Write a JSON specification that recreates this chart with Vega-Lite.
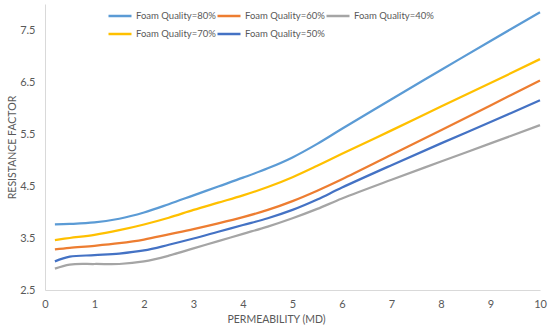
{
  "$schema": "https://vega.github.io/schema/vega-lite/v6.json",
  "width": 495,
  "height": 286,
  "autosize": {"type": "none"},
  "padding": {"left": 45, "top": 4, "right": 10, "bottom": 39},
  "background": "white",
  "config": {
    "view": {"stroke": null},
    "font": "Lato",
    "axis": {"labelFont": "Lato", "titleFont": "Lato", "labelColor": "#595959", "titleColor": "#595959", "labelFontSize": 11, "titleFontSize": 10.5, "titleFontWeight": "normal", "domainColor": "#D9D9D9", "ticks": false, "grid": false, "labelFlush": false}
  },
  "data": {"values": [
    {"q": "Foam Quality=80%", "k": 0.2, "rf": 3.76}, {"q": "Foam Quality=80%", "k": 0.5, "rf": 3.77}, {"q": "Foam Quality=80%", "k": 1, "rf": 3.8}, {"q": "Foam Quality=80%", "k": 1.5, "rf": 3.87}, {"q": "Foam Quality=80%", "k": 2, "rf": 3.99}, {"q": "Foam Quality=80%", "k": 2.5, "rf": 4.15}, {"q": "Foam Quality=80%", "k": 3, "rf": 4.32}, {"q": "Foam Quality=80%", "k": 3.5, "rf": 4.49}, {"q": "Foam Quality=80%", "k": 4, "rf": 4.66}, {"q": "Foam Quality=80%", "k": 4.5, "rf": 4.84}, {"q": "Foam Quality=80%", "k": 5, "rf": 5.05}, {"q": "Foam Quality=80%", "k": 5.5, "rf": 5.31}, {"q": "Foam Quality=80%", "k": 6, "rf": 5.6}, {"q": "Foam Quality=80%", "k": 7, "rf": 6.17}, {"q": "Foam Quality=80%", "k": 8, "rf": 6.73}, {"q": "Foam Quality=80%", "k": 9, "rf": 7.29}, {"q": "Foam Quality=80%", "k": 10, "rf": 7.84},
    {"q": "Foam Quality=70%", "k": 0.2, "rf": 3.46}, {"q": "Foam Quality=70%", "k": 0.5, "rf": 3.5}, {"q": "Foam Quality=70%", "k": 1, "rf": 3.56}, {"q": "Foam Quality=70%", "k": 1.5, "rf": 3.65}, {"q": "Foam Quality=70%", "k": 2, "rf": 3.76}, {"q": "Foam Quality=70%", "k": 2.5, "rf": 3.89}, {"q": "Foam Quality=70%", "k": 3, "rf": 4.04}, {"q": "Foam Quality=70%", "k": 3.5, "rf": 4.18}, {"q": "Foam Quality=70%", "k": 4, "rf": 4.32}, {"q": "Foam Quality=70%", "k": 4.5, "rf": 4.48}, {"q": "Foam Quality=70%", "k": 5, "rf": 4.67}, {"q": "Foam Quality=70%", "k": 5.5, "rf": 4.89}, {"q": "Foam Quality=70%", "k": 6, "rf": 5.12}, {"q": "Foam Quality=70%", "k": 7, "rf": 5.57}, {"q": "Foam Quality=70%", "k": 8, "rf": 6.03}, {"q": "Foam Quality=70%", "k": 9, "rf": 6.48}, {"q": "Foam Quality=70%", "k": 10, "rf": 6.94},
    {"q": "Foam Quality=60%", "k": 0.2, "rf": 3.28}, {"q": "Foam Quality=60%", "k": 0.5, "rf": 3.31}, {"q": "Foam Quality=60%", "k": 1, "rf": 3.35}, {"q": "Foam Quality=60%", "k": 1.5, "rf": 3.4}, {"q": "Foam Quality=60%", "k": 2, "rf": 3.47}, {"q": "Foam Quality=60%", "k": 2.5, "rf": 3.57}, {"q": "Foam Quality=60%", "k": 3, "rf": 3.67}, {"q": "Foam Quality=60%", "k": 3.5, "rf": 3.78}, {"q": "Foam Quality=60%", "k": 4, "rf": 3.9}, {"q": "Foam Quality=60%", "k": 4.5, "rf": 4.04}, {"q": "Foam Quality=60%", "k": 5, "rf": 4.21}, {"q": "Foam Quality=60%", "k": 5.5, "rf": 4.41}, {"q": "Foam Quality=60%", "k": 6, "rf": 4.63}, {"q": "Foam Quality=60%", "k": 7, "rf": 5.1}, {"q": "Foam Quality=60%", "k": 8, "rf": 5.57}, {"q": "Foam Quality=60%", "k": 9, "rf": 6.05}, {"q": "Foam Quality=60%", "k": 10, "rf": 6.53},
    {"q": "Foam Quality=50%", "k": 0.2, "rf": 3.05}, {"q": "Foam Quality=50%", "k": 0.5, "rf": 3.14}, {"q": "Foam Quality=50%", "k": 1, "rf": 3.17}, {"q": "Foam Quality=50%", "k": 1.5, "rf": 3.2}, {"q": "Foam Quality=50%", "k": 2, "rf": 3.26}, {"q": "Foam Quality=50%", "k": 2.5, "rf": 3.37}, {"q": "Foam Quality=50%", "k": 3, "rf": 3.49}, {"q": "Foam Quality=50%", "k": 3.5, "rf": 3.62}, {"q": "Foam Quality=50%", "k": 4, "rf": 3.75}, {"q": "Foam Quality=50%", "k": 4.5, "rf": 3.88}, {"q": "Foam Quality=50%", "k": 5, "rf": 4.04}, {"q": "Foam Quality=50%", "k": 5.5, "rf": 4.24}, {"q": "Foam Quality=50%", "k": 6, "rf": 4.47}, {"q": "Foam Quality=50%", "k": 7, "rf": 4.9}, {"q": "Foam Quality=50%", "k": 8, "rf": 5.32}, {"q": "Foam Quality=50%", "k": 9, "rf": 5.73}, {"q": "Foam Quality=50%", "k": 10, "rf": 6.15},
    {"q": "Foam Quality=40%", "k": 0.2, "rf": 2.91}, {"q": "Foam Quality=40%", "k": 0.5, "rf": 2.99}, {"q": "Foam Quality=40%", "k": 1, "rf": 3.0}, {"q": "Foam Quality=40%", "k": 1.5, "rf": 3.0}, {"q": "Foam Quality=40%", "k": 2, "rf": 3.05}, {"q": "Foam Quality=40%", "k": 2.5, "rf": 3.16}, {"q": "Foam Quality=40%", "k": 3, "rf": 3.3}, {"q": "Foam Quality=40%", "k": 3.5, "rf": 3.44}, {"q": "Foam Quality=40%", "k": 4, "rf": 3.58}, {"q": "Foam Quality=40%", "k": 4.5, "rf": 3.72}, {"q": "Foam Quality=40%", "k": 5, "rf": 3.88}, {"q": "Foam Quality=40%", "k": 5.5, "rf": 4.06}, {"q": "Foam Quality=40%", "k": 6, "rf": 4.26}, {"q": "Foam Quality=40%", "k": 7, "rf": 4.62}, {"q": "Foam Quality=40%", "k": 8, "rf": 4.97}, {"q": "Foam Quality=40%", "k": 9, "rf": 5.32}, {"q": "Foam Quality=40%", "k": 10, "rf": 5.67}
  ]},
  "mark": {"type": "line", "interpolate": "catmull-rom", "strokeWidth": 2.25},
  "encoding": {
    "x": {"field": "k", "type": "quantitative", "title": "PERMEABILITY (MD)",
      "scale": {"domain": [0, 10], "nice": false},
      "axis": {"values": [0,1,2,3,4,5,6,7,8,9,10], "labelPadding": 8, "titlePadding": 5, "titleX": 231}},
    "y": {"field": "rf", "type": "quantitative", "title": "RESISTANCE FACTOR",
      "scale": {"domain": [2.5, 8], "nice": false, "zero": false},
      "axis": {"values": [2.5,3.5,4.5,5.5,6.5,7.5], "format": ".1f", "labelPadding": 10, "titlePadding": 2}},
    "color": {"field": "q", "type": "nominal",
      "scale": {"domain": ["Foam Quality=80%", "Foam Quality=60%", "Foam Quality=40%", "Foam Quality=70%", "Foam Quality=50%"],
                "range": ["#5B9BD5", "#ED7D31", "#A5A5A5", "#FFC000", "#4472C4"]},
      "legend": {"title": null, "orient": "none", "legendX": 62, "legendY": -1, "direction": "horizontal", "columns": 3,
                 "symbolType": "stroke", "symbolSize": 529, "symbolStrokeWidth": 2.5, "labelOffset": 3,
                 "labelFont": "Lato", "labelFontSize": 9.5, "labelColor": "#595959", "columnPadding": -4, "rowPadding": -3, "padding": 0}}
  }
}
